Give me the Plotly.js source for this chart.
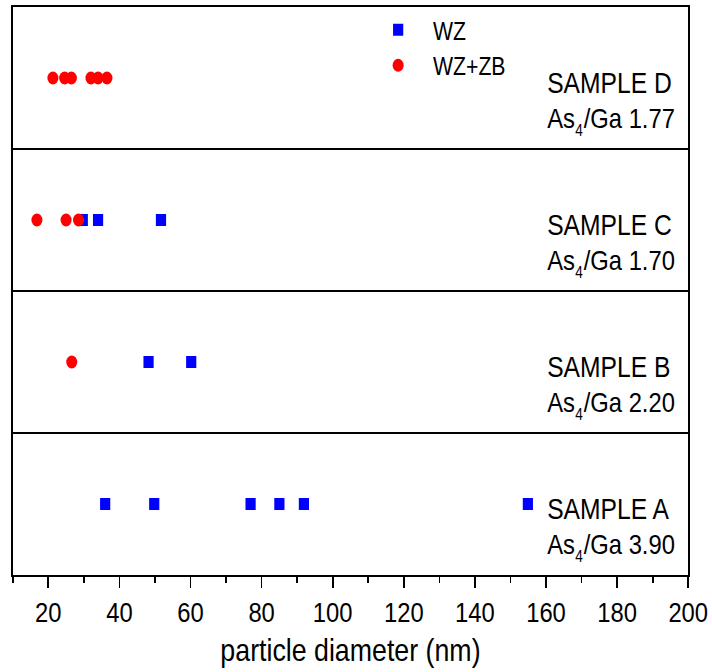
<!DOCTYPE html>
<html>
<head>
<meta charset="utf-8">
<script src="https://cdn.plot.ly/plotly-3.0.1.min.js"></script>
<style>
  html, body { margin: 0; padding: 0; background: #fff; overflow: hidden; }
  #wrap { width: 712px; height: 672px; overflow: hidden; }
  #chart { width: 838px; height: 672px; transform: scaleX(0.84964); transform-origin: 0 0; }
</style>
</head>
<body>
<div id="wrap"><div id="chart"></div></div>
<script>
// Samples (bottom to top)
const samples = ["SAMPLE A", "SAMPLE B", "SAMPLE C", "SAMPLE D"];
const ratios  = ["3.90", "2.20", "1.70", "1.77"];

// WZ particle diameters (nm) per sample
const wzA = [36.0, 49.8, 76.9, 85.0, 91.9, 154.9];
const wzB = [48.2, 60.2];
const wzC = [29.7, 34.0, 51.7];
const wzD = [];

// WZ+ZB particle diameters (nm) per sample
const zbA = [];
const zbB = [26.6];
const zbC = [16.8, 25.0, 28.5];
const zbD = [21.3, 24.6, 26.5, 32.0, 34.0, 36.5];

const xTicks = [20, 40, 60, 80, 100, 120, 140, 160, 180, 200];

const wzSets = [wzA, wzB, wzC, wzD];
const zbSets = [zbA, zbB, zbC, zbD];

function flatten(sets) {
  const xs = [], ys = [];
  sets.forEach((vals, i) => vals.forEach(v => { xs.push(v); ys.push(samples[i]); }));
  return {xs, ys};
}
const wz = flatten(wzSets);
const zb = flatten(zbSets);

const FONT = "Liberation Sans, Arial, Helvetica, sans-serif";

const traces = [
  { type: "scatter", mode: "markers", name: "WZ", x: wz.xs, y: wz.ys,
    marker: { symbol: "square", size: 12, color: "#0000ff" } },
  { type: "scatter", mode: "markers", name: "WZ+ZB", x: zb.xs, y: zb.ys,
    marker: { symbol: "circle", size: 13, color: "#ff0000" } }
];

const annotations = [];
const ax0 = 0.789;
samples.forEach((s, i) => {
  const base = { xref: "paper", yref: "y", x: ax0, xanchor: "left", yanchor: "middle", showarrow: false };
  annotations.push(Object.assign({}, base, { y: i - 0.035, text: s,
    font: { family: FONT, size: 29, color: "#000" } }));
  annotations.push(Object.assign({}, base, { y: i - 0.287, text: "As",
    font: { family: FONT, size: 28, color: "#000" } }));
  annotations.push(Object.assign({}, base, { y: i - 0.287, text: "4", xshift: 33, yshift: -12,
    font: { family: FONT, size: 16, color: "#000" } }));
  annotations.push(Object.assign({}, base, { y: i - 0.287, text: "/Ga " + ratios[i], xshift: 43,
    font: { family: FONT, size: 28, color: "#000" } }));
});

const shapes = [0.5, 1.5, 2.5].map(yv => ({
  type: "line", xref: "paper", x0: 0, x1: 1, yref: "y", y0: yv, y1: yv,
  line: { color: "#000", width: 2 }
}));

const layout = {
  width: 838, height: 672,
  margin: { l: 15, r: 28, t: 7, b: 97 },
  paper_bgcolor: "#fff", plot_bgcolor: "#fff",
  font: { family: FONT, color: "#000" },
  showlegend: true,
  legend: { x: 0.519, y: 1.0, xanchor: "left", yanchor: "top", bgcolor: "rgba(0,0,0,0)",
    itemwidth: 72,
    font: { family: FONT, size: 25, color: "#000" } },
  xaxis: {
    range: [10, 200], tickmode: "array", tickvals: xTicks, ticktext: xTicks.map(String),
    ticks: "outside", ticklen: 11, tickwidth: 2, tickcolor: "#000",
    minor: { tickmode: "linear", tick0: 0, dtick: 10, ticks: "outside", ticklen: 6, tickwidth: 2, tickcolor: "#000" },
    showline: true, mirror: true, linecolor: "#000", linewidth: 2,
    showgrid: false, zeroline: false,
    tickfont: { family: FONT, size: 28, color: "#000" },
    title: { text: "particle diameter (nm)", font: { family: FONT, size: 31.5, color: "#000" }, standoff: 12 }
  },
  yaxis: {
    type: "category", categoryorder: "array", categoryarray: samples, range: [-0.5, 3.5],
    showticklabels: false, ticks: "", showgrid: false, zeroline: false,
    showline: true, mirror: true, linecolor: "#000", linewidth: 2
  },
  annotations: annotations,
  shapes: shapes
};

Plotly.newPlot("chart", traces, layout, { staticPlot: true, displayModeBar: false });
</script>
</body>
</html>
